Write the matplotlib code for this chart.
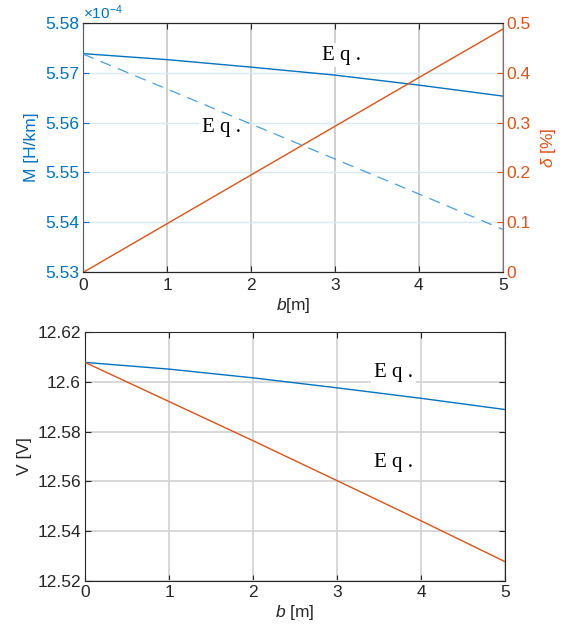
import numpy as np
import matplotlib
matplotlib.use('Agg')
from matplotlib import pyplot as plt
from matplotlib.ticker import FuncFormatter

plt.rcParams['font.family'] = ['Liberation Sans', 'DejaVu Sans']
plt.rcParams['mathtext.fontset'] = 'custom'
plt.rcParams['mathtext.it'] = 'Liberation Sans:italic'
plt.rcParams['mathtext.rm'] = 'Liberation Sans'

# data
b = [0, 1, 2, 3, 4, 5]
M_eq1 = [5.5738e-4, 5.5726e-4, 5.5711e-4, 5.5695e-4, 5.5675e-4, 5.5653e-4]
M_eq2 = [5.5737e-4, 5.5667e-4, 5.5597e-4, 5.5527e-4, 5.5457e-4, 5.5386e-4]
delta = [0.0, 0.0975, 0.195, 0.2925, 0.39, 0.487]
V_eq1 = [12.6077, 12.6050, 12.6015, 12.5975, 12.5933, 12.5888]
V_eq2 = [12.6077, 12.5920, 12.5763, 12.5603, 12.5442, 12.5278]

blue = '#0072BD'
blue2 = '#4A9EDB'
orange = '#D95319'
dark = '#262626'
fs = 12.5

fig = plt.figure(figsize=(5.67, 6.27), dpi=100)

# ---- top panel
ax = fig.add_axes([0.1469, 0.5657, 0.7397, 0.3981])
ax.plot(b, M_eq1, color=blue, lw=1.0, zorder=3)
ax.plot(b, M_eq2, color=blue2, lw=0.9, dashes=(9, 6), zorder=3)
ax.set_xlim(0, 5)
ax.set_ylim(5.53e-4, 5.58e-4)
ax.set_yticks(np.arange(5.53e-4, 5.5801e-4, 0.01e-4))
ax.yaxis.set_major_formatter(FuncFormatter(lambda v, p: '%.2f' % (v / 1e-4)))
ax.set_xticks(b)
ax.set_axisbelow(True)
ax.xaxis.grid(True, color='#cccccc', lw=1.3)
ax.yaxis.grid(True, color='#d8e8f5', lw=1.0)
ax.tick_params(axis='y', colors=blue, labelsize=fs, direction='in', length=4, pad=3)
ax.tick_params(axis='x', colors=dark, labelsize=fs, direction='in', length=4, top=True, pad=4)
ax.spines['left'].set_color(blue)
ax.spines['right'].set_visible(False)
for s in ['top', 'bottom']:
    ax.spines[s].set_color(dark)
ax.set_ylabel('M [H/km]', color=blue, fontsize=fs, labelpad=4)
ax.set_xlabel('$b$[m]', color=dark, fontsize=fs, labelpad=2)
ax.text(0.0, 1.004, r'$\times10^{-4}$', transform=ax.transAxes, color=blue,
        fontsize=fs - 1.5, ha='left', va='bottom')
ax.text(2.85, 5.5735e-4, 'E q .', family='Liberation Serif', fontsize=15,
        va='center', ha='left', zorder=1,
        bbox=dict(facecolor='white', edgecolor='none', pad=2))
ax.text(1.41, 5.5591e-4, 'E q .', family='Liberation Serif', fontsize=15,
        va='center', ha='left', zorder=1,
        bbox=dict(facecolor='white', edgecolor='none', pad=2))

ax2 = ax.twinx()
ax2.plot(b, delta, color=orange, lw=1.0)
ax2.set_ylim(0, 0.5)
ax2.set_yticks([0, 0.1, 0.2, 0.3, 0.4, 0.5])
ax2.yaxis.set_major_formatter(FuncFormatter(lambda v, p: '%g' % v))
ax2.tick_params(axis='y', colors=orange, labelsize=fs, direction='in', length=4, pad=3)
ax2.spines['right'].set_color(orange)
ax2.spines['left'].set_visible(False)
ax2.spines['top'].set_color(dark)
ax2.spines['bottom'].set_color(dark)
ax2.set_ylabel(r'$\delta$ [%]', color=orange, fontsize=fs, labelpad=6)

# ---- bottom panel
bx = fig.add_axes([0.1499, 0.0729, 0.7413, 0.3981])
bx.plot(b, V_eq1, color=blue, lw=1.0, zorder=3)
bx.plot(b, V_eq2, color=orange, lw=1.0, zorder=3)
bx.set_xlim(0, 5)
bx.set_ylim(12.52, 12.62)
bx.set_yticks([12.52, 12.54, 12.56, 12.58, 12.6, 12.62])
bx.yaxis.set_major_formatter(FuncFormatter(lambda v, p: '%g' % round(v, 2)))
bx.set_xticks(b)
bx.set_axisbelow(True)
bx.grid(True, color='#d4d4d4', lw=1.3)
bx.tick_params(colors=dark, labelsize=fs, direction='in', length=4, top=True, right=True, pad=3)
for s in bx.spines.values():
    s.set_color(dark)
bx.set_ylabel('V [V]', color=dark, fontsize=fs, labelpad=4)
bx.set_xlabel('$b$ [m]', color=dark, fontsize=fs, labelpad=2)
bx.text(3.44, 12.6035, 'E q .', family='Liberation Serif', fontsize=15,
        va='center', ha='left', zorder=1,
        bbox=dict(facecolor='white', edgecolor='none', pad=2))
bx.text(3.44, 12.5674, 'E q .', family='Liberation Serif', fontsize=15,
        va='center', ha='left', zorder=1,
        bbox=dict(facecolor='white', edgecolor='none', pad=2))

plt.savefig('out.png', dpi=100)
